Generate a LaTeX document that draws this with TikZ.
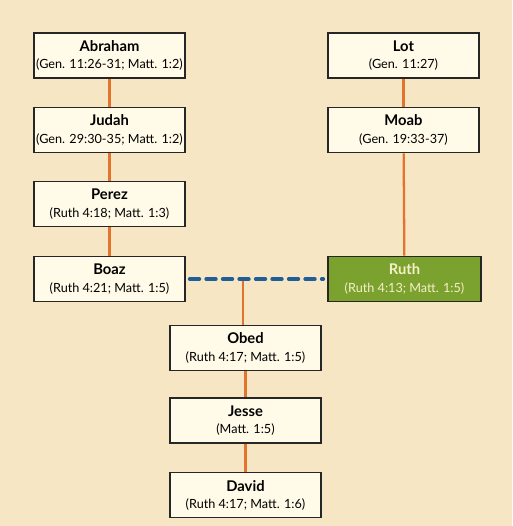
\documentclass[tikz,border=0pt]{standalone}
\usepackage{fontspec}
\setmainfont{Lato}
\usetikzlibrary{positioning, calc}

\definecolor{parchment}{HTML}{F7E6C4}
\definecolor{boxfill}{HTML}{FFFBE8}
\definecolor{ruthgreen}{HTML}{7BA22E}
\definecolor{ruthtext}{HTML}{F6F0C8}
\definecolor{lineorange}{HTML}{E2742E}
\definecolor{marriageblue}{HTML}{1F5E98}

\newcommand{\pname}[1]{{\fontsize{8.4}{9.8}\selectfont\bfseries #1}}

\begin{document}
\begin{tikzpicture}[
    person/.style={rectangle, draw=black!85, line width=0.9pt, fill=boxfill, minimum width=3.02cm, minimum height=0.9cm, inner sep=1pt, align=center, font=\fontsize{7.2}{9.8}\selectfont},
    line/.style={draw=lineorange, line width=1.3pt},
    marriage/.style={draw=marriageblue, line width=2.2pt, line cap=round, dash pattern=on 0.19cm off 0.14cm}
]
\fill[parchment] (0,0) rectangle (10.24,-10.52);
\useasboundingbox (0,0) rectangle (10.24,-10.52);

% Line of Judah
\node[person] (abraham) at (2.19,-1.11) {\pname{Abraham}\\(Gen. 11:26-31; Matt. 1:2)};
\node[person] (judah) at (2.19,-2.60) {\pname{Judah}\\(Gen. 29:30-35; Matt. 1:2)};
\node[person] (perez) at (2.19,-4.08) {\pname{Perez}\\(Ruth 4:18; Matt. 1:3)};
\node[person] (boaz) at (2.19,-5.58) {\pname{Boaz}\\(Ruth 4:21; Matt. 1:5)};

% Line of Moab
\node[person] (lot) at (8.07,-1.11) {\pname{Lot}\\(Gen. 11:27)};
\node[person] (moab) at (8.07,-2.60) {\pname{Moab}\\(Gen. 19:33-37)};
\node[person, fill=ruthgreen, text=ruthtext, minimum width=3.06cm] (ruth) at (8.09,-5.58) {\pname{Ruth}\\(Ruth 4:13; Matt. 1:5)};

% Descendants
\node[person] (obed) at (4.91,-6.96) {\pname{Obed}\\(Ruth 4:17; Matt. 1:5)};
\node[person, below=0.52cm of obed] (jesse) {\pname{Jesse}\\(Matt. 1:5)};
\node[person, below=0.56cm of jesse] (david) {\pname{David}\\(Ruth 4:17; Matt. 1:6)};

% Connections
\coordinate (union) at ($(obed.north |- boaz.east)+(-0.05,0)$);
\draw[line] (abraham) -- (judah);
\draw[line] (judah) -- (perez);
\draw[line] (perez) -- (boaz);
\draw[line] (lot) -- (moab);
\draw[line] (moab) -- (ruth);
\draw[line] (union) -- (union |- obed.north);
\draw[line] (obed) -- (jesse);
\draw[line] (jesse) -- (david);
\draw[marriage] ($(boaz.east)+(0.08,0)$) -- ($(boaz.east -| ruth.west)+(-0.08,0)$);

\end{tikzpicture}
\end{document}
